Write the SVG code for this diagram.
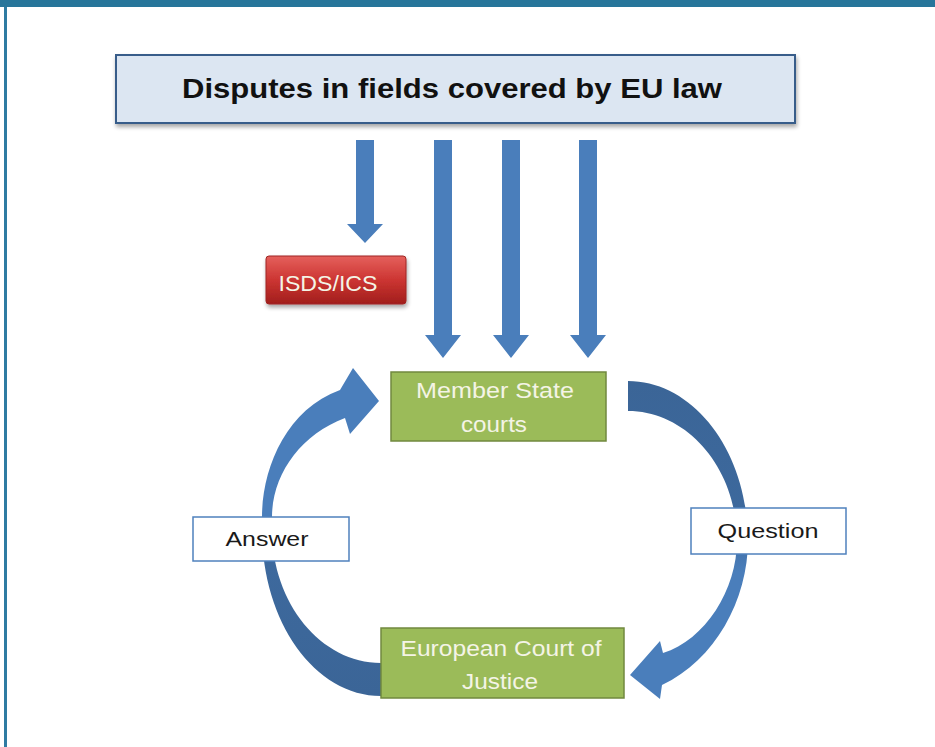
<svg xmlns="http://www.w3.org/2000/svg" width="935" height="747" viewBox="0 0 935 747">
<defs>
<style>
.lbl{font-family:"Liberation Sans",Arial,sans-serif;}
.green{fill:#9bbb59;stroke:#71893f;stroke-width:1.5;}
.white{fill:#ffffff;stroke:#4f81bd;stroke-width:1.5;}
.arrow{fill:#4a7ebb;}
.gtxt{fill:#f4f4e6;font-size:22px;}
.dtxt{fill:#1a1a1a;font-size:21px;}
</style>
<linearGradient id="redg" x1="0" y1="0" x2="0" y2="1">
<stop offset="0" stop-color="#e5605c"/>
<stop offset="0.5" stop-color="#cc3532"/>
<stop offset="1" stop-color="#a11e1c"/>
</linearGradient>
<linearGradient id="gradR" gradientUnits="userSpaceOnUse" x1="0" y1="381" x2="0" y2="700">
<stop offset="0" stop-color="#3b6597"/>
<stop offset="0.45" stop-color="#3d699d"/>
<stop offset="0.6" stop-color="#4a7ebb"/>
<stop offset="1" stop-color="#4a7ebb"/>
</linearGradient>
<linearGradient id="gradL" gradientUnits="userSpaceOnUse" x1="0" y1="696" x2="0" y2="368">
<stop offset="0" stop-color="#3b6597"/>
<stop offset="0.4" stop-color="#3d699d"/>
<stop offset="0.55" stop-color="#4a7ebb"/>
<stop offset="1" stop-color="#4a7ebb"/>
</linearGradient>
<filter id="sh" x="-10%" y="-10%" width="125%" height="140%">
<feGaussianBlur in="SourceAlpha" stdDeviation="2"/>
<feOffset dx="1" dy="3"/>
<feComponentTransfer><feFuncA type="linear" slope="0.35"/></feComponentTransfer>
<feMerge><feMergeNode/><feMergeNode in="SourceGraphic"/></feMerge>
</filter>
</defs>
<rect x="0" y="0" width="935" height="747" fill="#ffffff"/>
<rect x="0" y="0" width="935" height="7" fill="#27759a"/>
<rect x="4" y="7" width="3" height="740" fill="#2f7ba2"/>

<g id="connectors">
<path class="arrow" d="M356,140 H374 V224 H383 L365,243 L347,224 H356 Z"/>
<path class="arrow" d="M434,140 H452 V335 H461 L443,358 L425,335 H434 Z"/>
<path class="arrow" d="M502,140 H520 V335 H529 L511,358 L493,335 H502 Z"/>
<path class="arrow" d="M579,140 H597 V335 H606 L588,358 L570,335 H579 Z"/>
<path fill="url(#gradR)" d="M628,381 C694,381 748,452 748,540 C748,600 715,660 662,685 L660,699 L630,675 L660,641 L663,653 C705,640 737,590 737,540 C737,469 688,411 628,411 Z"/>
<path fill="url(#gradL)" d="M381,696 C315,696 262,622 262,530 L262,517 C262,470 285,410 340,390 L353,368 L379,401 L350,434 L345,418 C300,435 272,475 272,517 L272,530 C272,603 321,663 381,663 Z"/>
</g>

<g id="title">
<rect x="116" y="55" width="679" height="68" fill="#dce6f2" stroke="#385d8a" stroke-width="2" filter="url(#sh)"/>
<text class="lbl" x="452" y="98" text-anchor="middle" font-size="28" font-weight="bold" fill="#111111" textLength="540" lengthAdjust="spacingAndGlyphs">Disputes in fields covered by EU law</text>
</g>

<g id="isds">
<rect x="266" y="256" width="140" height="48" rx="3" fill="url(#redg)" stroke="#9e2624" stroke-width="1" filter="url(#sh)"/>
<text class="lbl gtxt" x="328" y="291" text-anchor="middle" fill="#fbeeee" textLength="99" lengthAdjust="spacingAndGlyphs">ISDS/ICS</text>
</g>

<g id="member-state-courts">
<rect class="green" x="391" y="372" width="215" height="69"/>
<text class="lbl gtxt" x="495" y="398" text-anchor="middle" textLength="158" lengthAdjust="spacingAndGlyphs">Member State</text>
<text class="lbl gtxt" x="494" y="432" text-anchor="middle" textLength="66" lengthAdjust="spacingAndGlyphs">courts</text>
</g>

<g id="answer">
<rect class="white" x="193" y="517" width="156" height="44"/>
<text class="lbl dtxt" x="267" y="546" text-anchor="middle" textLength="83" lengthAdjust="spacingAndGlyphs">Answer</text>
</g>

<g id="question">
<rect class="white" x="691" y="508" width="155" height="46"/>
<text class="lbl dtxt" x="768" y="538" text-anchor="middle" textLength="101" lengthAdjust="spacingAndGlyphs">Question</text>
</g>

<g id="ecj">
<rect class="green" x="381" y="628" width="243" height="70"/>
<text class="lbl gtxt" x="501" y="656" text-anchor="middle" textLength="201" lengthAdjust="spacingAndGlyphs">European Court of</text>
<text class="lbl gtxt" x="500" y="689" text-anchor="middle" textLength="76" lengthAdjust="spacingAndGlyphs">Justice</text>
</g>
</svg>
